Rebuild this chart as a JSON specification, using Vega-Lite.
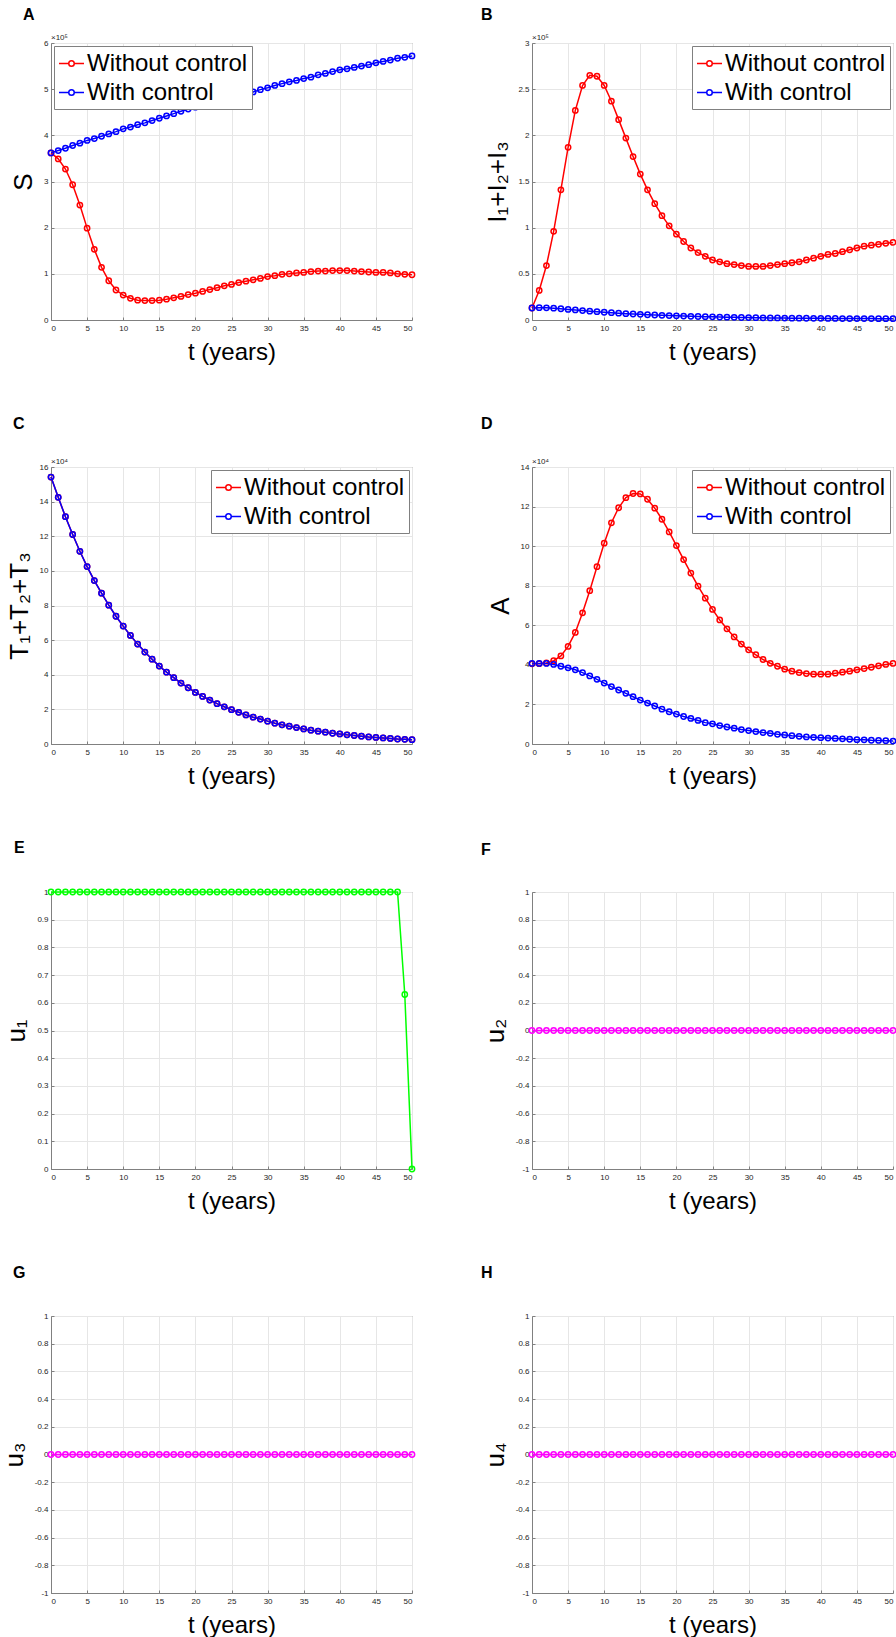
{
"$schema":"https://vega.github.io/schema/vega-lite/v6.json",
"padding":{"left":0,"top":6,"right":0,"bottom":0},
"config":{
"font":"Liberation Sans",
"view":{"stroke":"#808080","strokeWidth":1},
"axis":{"grid":true,"gridColor":"#e6e6e6","gridWidth":1,"domainColor":"#808080","tickColor":"#808080","tickSize":-3,"labelFontSize":8,"labelColor":"#262626","labelFont":"Liberation Sans","titleFont":"Liberation Sans","titleFontWeight":"normal","titleColor":"#000000","titleFontSize":26,"labelOverlap":false},
"axisX":{"titleFontSize":24,"titlePadding":8,"labelPadding":7},
"axisY":{"titlePadding":7,"labelPadding":6},
"title":{"fontSize":16,"fontWeight":"bold","anchor":"start","frame":"group","font":"Liberation Sans","color":"#000000","baseline":"bottom"},
"legend":{"labelFontSize":24,"labelFont":"Liberation Sans","labelColor":"#000000","symbolType":"M-1,0H-0.22M0.22,0H1M0.22,0A0.22,0.22,0,1,1,-0.22,0A0.22,0.22,0,1,1,0.22,0","symbolSize":625,"symbolStrokeWidth":1.5,"strokeColor":"#808080","fillColor":"#ffffff","padding":4,"rowPadding":3,"labelOffset":2,"offset":3,"labelLimit":400,"cornerRadius":0}
},
"datasets":{
"A":[
{"t":0,"s":"Without control","v":362000},{"t":1,"s":"Without control","v":349000},{"t":2,"s":"Without control","v":327000},{"t":3,"s":"Without control","v":293000},{"t":4,"s":"Without control","v":249000},{"t":5,"s":"Without control","v":199000},{"t":6,"s":"Without control","v":153000},{"t":7,"s":"Without control","v":114000},{"t":8,"s":"Without control","v":85000},{"t":9,"s":"Without control","v":65000},{"t":10,"s":"Without control","v":54000},{"t":11,"s":"Without control","v":47000},{"t":12,"s":"Without control","v":43000},{"t":13,"s":"Without control","v":42000},{"t":14,"s":"Without control","v":42000},{"t":15,"s":"Without control","v":43000},{"t":16,"s":"Without control","v":45000},{"t":17,"s":"Without control","v":48000},{"t":18,"s":"Without control","v":51000},{"t":19,"s":"Without control","v":55000},{"t":20,"s":"Without control","v":58000},{"t":21,"s":"Without control","v":62000},{"t":22,"s":"Without control","v":66000},{"t":23,"s":"Without control","v":70000},{"t":24,"s":"Without control","v":74000},{"t":25,"s":"Without control","v":77000},{"t":26,"s":"Without control","v":81000},{"t":27,"s":"Without control","v":84000},{"t":28,"s":"Without control","v":87000},{"t":29,"s":"Without control","v":90000},{"t":30,"s":"Without control","v":94000},{"t":31,"s":"Without control","v":96000},{"t":32,"s":"Without control","v":99000},{"t":33,"s":"Without control","v":100000},{"t":34,"s":"Without control","v":102000},{"t":35,"s":"Without control","v":103000},{"t":36,"s":"Without control","v":105000},{"t":37,"s":"Without control","v":106000},{"t":38,"s":"Without control","v":106000},{"t":39,"s":"Without control","v":107000},{"t":40,"s":"Without control","v":107000},{"t":41,"s":"Without control","v":107000},{"t":42,"s":"Without control","v":106000},{"t":43,"s":"Without control","v":105000},{"t":44,"s":"Without control","v":104000},{"t":45,"s":"Without control","v":103000},{"t":46,"s":"Without control","v":103000},{"t":47,"s":"Without control","v":102000},{"t":48,"s":"Without control","v":100000},{"t":49,"s":"Without control","v":99000},{"t":50,"s":"Without control","v":98000},
{"t":0,"s":"With control","v":362000},{"t":1,"s":"With control","v":367000},{"t":2,"s":"With control","v":372000},{"t":3,"s":"With control","v":378000},{"t":4,"s":"With control","v":383000},{"t":5,"s":"With control","v":389000},{"t":6,"s":"With control","v":393000},{"t":7,"s":"With control","v":398000},{"t":8,"s":"With control","v":403000},{"t":9,"s":"With control","v":408000},{"t":10,"s":"With control","v":414000},{"t":11,"s":"With control","v":418000},{"t":12,"s":"With control","v":423000},{"t":13,"s":"With control","v":427000},{"t":14,"s":"With control","v":432000},{"t":15,"s":"With control","v":437000},{"t":16,"s":"With control","v":442000},{"t":17,"s":"With control","v":447000},{"t":18,"s":"With control","v":452000},{"t":19,"s":"With control","v":457000},{"t":20,"s":"With control","v":461000},{"t":21,"s":"With control","v":465000},{"t":22,"s":"With control","v":469000},{"t":23,"s":"With control","v":473000},{"t":24,"s":"With control","v":477000},{"t":25,"s":"With control","v":481000},{"t":26,"s":"With control","v":485000},{"t":27,"s":"With control","v":489000},{"t":28,"s":"With control","v":494000},{"t":29,"s":"With control","v":499000},{"t":30,"s":"With control","v":503000},{"t":31,"s":"With control","v":508000},{"t":32,"s":"With control","v":512000},{"t":33,"s":"With control","v":516000},{"t":34,"s":"With control","v":519000},{"t":35,"s":"With control","v":523000},{"t":36,"s":"With control","v":526000},{"t":37,"s":"With control","v":531000},{"t":38,"s":"With control","v":534000},{"t":39,"s":"With control","v":538000},{"t":40,"s":"With control","v":542000},{"t":41,"s":"With control","v":544000},{"t":42,"s":"With control","v":547000},{"t":43,"s":"With control","v":550000},{"t":44,"s":"With control","v":553000},{"t":45,"s":"With control","v":557000},{"t":46,"s":"With control","v":560000},{"t":47,"s":"With control","v":563000},{"t":48,"s":"With control","v":567000},{"t":49,"s":"With control","v":569000},{"t":50,"s":"With control","v":572000}
],
"B":[
{"t":0,"s":"Without control","v":13000},{"t":1,"s":"Without control","v":32000},{"t":2,"s":"Without control","v":59000},{"t":3,"s":"Without control","v":96000},{"t":4,"s":"Without control","v":141000},{"t":5,"s":"Without control","v":187000},{"t":6,"s":"Without control","v":227000},{"t":7,"s":"Without control","v":254000},{"t":8,"s":"Without control","v":265000},{"t":9,"s":"Without control","v":264000},{"t":10,"s":"Without control","v":254000},{"t":11,"s":"Without control","v":237000},{"t":12,"s":"Without control","v":217000},{"t":13,"s":"Without control","v":197000},{"t":14,"s":"Without control","v":177000},{"t":15,"s":"Without control","v":158000},{"t":16,"s":"Without control","v":141000},{"t":17,"s":"Without control","v":126000},{"t":18,"s":"Without control","v":113000},{"t":19,"s":"Without control","v":102000},{"t":20,"s":"Without control","v":93000},{"t":21,"s":"Without control","v":85000},{"t":22,"s":"Without control","v":78000},{"t":23,"s":"Without control","v":73000},{"t":24,"s":"Without control","v":69000},{"t":25,"s":"Without control","v":65000},{"t":26,"s":"Without control","v":63000},{"t":27,"s":"Without control","v":61000},{"t":28,"s":"Without control","v":60000},{"t":29,"s":"Without control","v":59000},{"t":30,"s":"Without control","v":58000},{"t":31,"s":"Without control","v":58000},{"t":32,"s":"Without control","v":58000},{"t":33,"s":"Without control","v":59000},{"t":34,"s":"Without control","v":60000},{"t":35,"s":"Without control","v":61000},{"t":36,"s":"Without control","v":62000},{"t":37,"s":"Without control","v":63000},{"t":38,"s":"Without control","v":65000},{"t":39,"s":"Without control","v":67000},{"t":40,"s":"Without control","v":69000},{"t":41,"s":"Without control","v":71000},{"t":42,"s":"Without control","v":72000},{"t":43,"s":"Without control","v":74000},{"t":44,"s":"Without control","v":76000},{"t":45,"s":"Without control","v":78000},{"t":46,"s":"Without control","v":80000},{"t":47,"s":"Without control","v":81000},{"t":48,"s":"Without control","v":82000},{"t":49,"s":"Without control","v":83000},{"t":50,"s":"Without control","v":84000},
{"t":0,"s":"With control","v":13000},{"t":1,"s":"With control","v":13300},{"t":2,"s":"With control","v":13200},{"t":3,"s":"With control","v":12800},{"t":4,"s":"With control","v":12200},{"t":5,"s":"With control","v":11500},{"t":6,"s":"With control","v":10900},{"t":7,"s":"With control","v":10200},{"t":8,"s":"With control","v":9600},{"t":9,"s":"With control","v":9000},{"t":10,"s":"With control","v":8400},{"t":11,"s":"With control","v":7900},{"t":12,"s":"With control","v":7400},{"t":13,"s":"With control","v":6900},{"t":14,"s":"With control","v":6500},{"t":15,"s":"With control","v":6100},{"t":16,"s":"With control","v":5700},{"t":17,"s":"With control","v":5400},{"t":18,"s":"With control","v":5100},{"t":19,"s":"With control","v":4800},{"t":20,"s":"With control","v":4500},{"t":21,"s":"With control","v":4300},{"t":22,"s":"With control","v":4000},{"t":23,"s":"With control","v":3800},{"t":24,"s":"With control","v":3600},{"t":25,"s":"With control","v":3400},{"t":26,"s":"With control","v":3200},{"t":27,"s":"With control","v":3100},{"t":28,"s":"With control","v":2900},{"t":29,"s":"With control","v":2700},{"t":30,"s":"With control","v":2600},{"t":31,"s":"With control","v":2500},{"t":32,"s":"With control","v":2400},{"t":33,"s":"With control","v":2300},{"t":34,"s":"With control","v":2200},{"t":35,"s":"With control","v":2100},{"t":36,"s":"With control","v":2000},{"t":37,"s":"With control","v":2000},{"t":38,"s":"With control","v":1900},{"t":39,"s":"With control","v":1800},{"t":40,"s":"With control","v":1800},{"t":41,"s":"With control","v":1700},{"t":42,"s":"With control","v":1700},{"t":43,"s":"With control","v":1600},{"t":44,"s":"With control","v":1600},{"t":45,"s":"With control","v":1500},{"t":46,"s":"With control","v":1500},{"t":47,"s":"With control","v":1500},{"t":48,"s":"With control","v":1400},{"t":49,"s":"With control","v":1400},{"t":50,"s":"With control","v":1400}
],
"C":[
{"t":0,"s":"Without control","v":154200},{"t":1,"s":"Without control","v":142500},{"t":2,"s":"Without control","v":131300},{"t":3,"s":"Without control","v":121000},{"t":4,"s":"Without control","v":111300},{"t":5,"s":"Without control","v":102500},{"t":6,"s":"Without control","v":94400},{"t":7,"s":"Without control","v":87100},{"t":8,"s":"Without control","v":80200},{"t":9,"s":"Without control","v":73800},{"t":10,"s":"Without control","v":68100},{"t":11,"s":"Without control","v":62700},{"t":12,"s":"Without control","v":57700},{"t":13,"s":"Without control","v":53100},{"t":14,"s":"Without control","v":49000},{"t":15,"s":"Without control","v":45000},{"t":16,"s":"Without control","v":41500},{"t":17,"s":"Without control","v":38300},{"t":18,"s":"Without control","v":35200},{"t":19,"s":"Without control","v":32500},{"t":20,"s":"Without control","v":29800},{"t":21,"s":"Without control","v":27500},{"t":22,"s":"Without control","v":25400},{"t":23,"s":"Without control","v":23300},{"t":24,"s":"Without control","v":21500},{"t":25,"s":"Without control","v":19800},{"t":26,"s":"Without control","v":18300},{"t":27,"s":"Without control","v":16800},{"t":28,"s":"Without control","v":15500},{"t":29,"s":"Without control","v":14400},{"t":30,"s":"Without control","v":13200},{"t":31,"s":"Without control","v":12000},{"t":32,"s":"Without control","v":11100},{"t":33,"s":"Without control","v":10300},{"t":34,"s":"Without control","v":9500},{"t":35,"s":"Without control","v":8700},{"t":36,"s":"Without control","v":8000},{"t":37,"s":"Without control","v":7400},{"t":38,"s":"Without control","v":6800},{"t":39,"s":"Without control","v":6200},{"t":40,"s":"Without control","v":5800},{"t":41,"s":"Without control","v":5300},{"t":42,"s":"Without control","v":4900},{"t":43,"s":"Without control","v":4500},{"t":44,"s":"Without control","v":4100},{"t":45,"s":"Without control","v":3800},{"t":46,"s":"Without control","v":3500},{"t":47,"s":"Without control","v":3200},{"t":48,"s":"Without control","v":2900},{"t":49,"s":"Without control","v":2700},{"t":50,"s":"Without control","v":2500},
{"t":0,"s":"With control","v":154200},{"t":1,"s":"With control","v":142500},{"t":2,"s":"With control","v":131300},{"t":3,"s":"With control","v":121000},{"t":4,"s":"With control","v":111300},{"t":5,"s":"With control","v":102500},{"t":6,"s":"With control","v":94400},{"t":7,"s":"With control","v":87100},{"t":8,"s":"With control","v":80200},{"t":9,"s":"With control","v":73800},{"t":10,"s":"With control","v":68100},{"t":11,"s":"With control","v":62700},{"t":12,"s":"With control","v":57700},{"t":13,"s":"With control","v":53100},{"t":14,"s":"With control","v":49000},{"t":15,"s":"With control","v":45000},{"t":16,"s":"With control","v":41500},{"t":17,"s":"With control","v":38300},{"t":18,"s":"With control","v":35200},{"t":19,"s":"With control","v":32500},{"t":20,"s":"With control","v":29800},{"t":21,"s":"With control","v":27500},{"t":22,"s":"With control","v":25400},{"t":23,"s":"With control","v":23300},{"t":24,"s":"With control","v":21500},{"t":25,"s":"With control","v":19800},{"t":26,"s":"With control","v":18300},{"t":27,"s":"With control","v":16800},{"t":28,"s":"With control","v":15500},{"t":29,"s":"With control","v":14400},{"t":30,"s":"With control","v":13200},{"t":31,"s":"With control","v":12000},{"t":32,"s":"With control","v":11100},{"t":33,"s":"With control","v":10300},{"t":34,"s":"With control","v":9500},{"t":35,"s":"With control","v":8700},{"t":36,"s":"With control","v":8000},{"t":37,"s":"With control","v":7400},{"t":38,"s":"With control","v":6800},{"t":39,"s":"With control","v":6200},{"t":40,"s":"With control","v":5800},{"t":41,"s":"With control","v":5300},{"t":42,"s":"With control","v":4900},{"t":43,"s":"With control","v":4500},{"t":44,"s":"With control","v":4100},{"t":45,"s":"With control","v":3800},{"t":46,"s":"With control","v":3500},{"t":47,"s":"With control","v":3200},{"t":48,"s":"With control","v":2900},{"t":49,"s":"With control","v":2700},{"t":50,"s":"With control","v":2500}
],
"D":[
{"t":0,"s":"Without control","v":40500},{"t":1,"s":"Without control","v":40600},{"t":2,"s":"Without control","v":41000},{"t":3,"s":"Without control","v":42100},{"t":4,"s":"Without control","v":44500},{"t":5,"s":"Without control","v":49300},{"t":6,"s":"Without control","v":56400},{"t":7,"s":"Without control","v":66300},{"t":8,"s":"Without control","v":77500},{"t":9,"s":"Without control","v":89600},{"t":10,"s":"Without control","v":101500},{"t":11,"s":"Without control","v":111800},{"t":12,"s":"Without control","v":119400},{"t":13,"s":"Without control","v":124500},{"t":14,"s":"Without control","v":126600},{"t":15,"s":"Without control","v":126400},{"t":16,"s":"Without control","v":123700},{"t":17,"s":"Without control","v":119200},{"t":18,"s":"Without control","v":113600},{"t":19,"s":"Without control","v":107200},{"t":20,"s":"Without control","v":100300},{"t":21,"s":"Without control","v":93200},{"t":22,"s":"Without control","v":86400},{"t":23,"s":"Without control","v":79800},{"t":24,"s":"Without control","v":73700},{"t":25,"s":"Without control","v":68000},{"t":26,"s":"Without control","v":62700},{"t":27,"s":"Without control","v":58200},{"t":28,"s":"Without control","v":54100},{"t":29,"s":"Without control","v":50500},{"t":30,"s":"Without control","v":47600},{"t":31,"s":"Without control","v":45100},{"t":32,"s":"Without control","v":42700},{"t":33,"s":"Without control","v":40800},{"t":34,"s":"Without control","v":39300},{"t":35,"s":"Without control","v":37800},{"t":36,"s":"Without control","v":36800},{"t":37,"s":"Without control","v":36100},{"t":38,"s":"Without control","v":35600},{"t":39,"s":"Without control","v":35300},{"t":40,"s":"Without control","v":35300},{"t":41,"s":"Without control","v":35300},{"t":42,"s":"Without control","v":35800},{"t":43,"s":"Without control","v":36300},{"t":44,"s":"Without control","v":36800},{"t":45,"s":"Without control","v":37500},{"t":46,"s":"Without control","v":38100},{"t":47,"s":"Without control","v":38800},{"t":48,"s":"Without control","v":39500},{"t":49,"s":"Without control","v":40200},{"t":50,"s":"Without control","v":40700},
{"t":0,"s":"With control","v":40700},{"t":1,"s":"With control","v":40700},{"t":2,"s":"With control","v":40700},{"t":3,"s":"With control","v":40200},{"t":4,"s":"With control","v":39300},{"t":5,"s":"With control","v":38500},{"t":6,"s":"With control","v":37500},{"t":7,"s":"With control","v":36100},{"t":8,"s":"With control","v":34400},{"t":9,"s":"With control","v":32700},{"t":10,"s":"With control","v":30800},{"t":11,"s":"With control","v":29000},{"t":12,"s":"With control","v":27300},{"t":13,"s":"With control","v":25600},{"t":14,"s":"With control","v":23900},{"t":15,"s":"With control","v":22200},{"t":16,"s":"With control","v":20700},{"t":17,"s":"With control","v":19200},{"t":18,"s":"With control","v":17600},{"t":19,"s":"With control","v":16300},{"t":20,"s":"With control","v":15100},{"t":21,"s":"With control","v":13900},{"t":22,"s":"With control","v":12900},{"t":23,"s":"With control","v":11900},{"t":24,"s":"With control","v":10800},{"t":25,"s":"With control","v":10200},{"t":26,"s":"With control","v":9300},{"t":27,"s":"With control","v":8600},{"t":28,"s":"With control","v":8000},{"t":29,"s":"With control","v":7300},{"t":30,"s":"With control","v":6800},{"t":31,"s":"With control","v":6300},{"t":32,"s":"With control","v":5800},{"t":33,"s":"With control","v":5400},{"t":34,"s":"With control","v":4900},{"t":35,"s":"With control","v":4600},{"t":36,"s":"With control","v":4200},{"t":37,"s":"With control","v":3900},{"t":38,"s":"With control","v":3600},{"t":39,"s":"With control","v":3400},{"t":40,"s":"With control","v":3200},{"t":41,"s":"With control","v":3000},{"t":42,"s":"With control","v":2800},{"t":43,"s":"With control","v":2600},{"t":44,"s":"With control","v":2400},{"t":45,"s":"With control","v":2200},{"t":46,"s":"With control","v":2100},{"t":47,"s":"With control","v":1900},{"t":48,"s":"With control","v":1800},{"t":49,"s":"With control","v":1700},{"t":50,"s":"With control","v":1500}
],
"E":[
{"t":0,"v":1},{"t":1,"v":1},{"t":2,"v":1},{"t":3,"v":1},{"t":4,"v":1},{"t":5,"v":1},{"t":6,"v":1},{"t":7,"v":1},{"t":8,"v":1},{"t":9,"v":1},{"t":10,"v":1},{"t":11,"v":1},{"t":12,"v":1},{"t":13,"v":1},{"t":14,"v":1},{"t":15,"v":1},{"t":16,"v":1},{"t":17,"v":1},{"t":18,"v":1},{"t":19,"v":1},{"t":20,"v":1},{"t":21,"v":1},{"t":22,"v":1},{"t":23,"v":1},{"t":24,"v":1},{"t":25,"v":1},{"t":26,"v":1},{"t":27,"v":1},{"t":28,"v":1},{"t":29,"v":1},{"t":30,"v":1},{"t":31,"v":1},{"t":32,"v":1},{"t":33,"v":1},{"t":34,"v":1},{"t":35,"v":1},{"t":36,"v":1},{"t":37,"v":1},{"t":38,"v":1},{"t":39,"v":1},{"t":40,"v":1},{"t":41,"v":1},{"t":42,"v":1},{"t":43,"v":1},{"t":44,"v":1},{"t":45,"v":1},{"t":46,"v":1},{"t":47,"v":1},{"t":48,"v":1},{"t":49,"v":0.63},{"t":50,"v":0}
],
"U0":[
{"t":0,"v":0},{"t":1,"v":0},{"t":2,"v":0},{"t":3,"v":0},{"t":4,"v":0},{"t":5,"v":0},{"t":6,"v":0},{"t":7,"v":0},{"t":8,"v":0},{"t":9,"v":0},{"t":10,"v":0},{"t":11,"v":0},{"t":12,"v":0},{"t":13,"v":0},{"t":14,"v":0},{"t":15,"v":0},{"t":16,"v":0},{"t":17,"v":0},{"t":18,"v":0},{"t":19,"v":0},{"t":20,"v":0},{"t":21,"v":0},{"t":22,"v":0},{"t":23,"v":0},{"t":24,"v":0},{"t":25,"v":0},{"t":26,"v":0},{"t":27,"v":0},{"t":28,"v":0},{"t":29,"v":0},{"t":30,"v":0},{"t":31,"v":0},{"t":32,"v":0},{"t":33,"v":0},{"t":34,"v":0},{"t":35,"v":0},{"t":36,"v":0},{"t":37,"v":0},{"t":38,"v":0},{"t":39,"v":0},{"t":40,"v":0},{"t":41,"v":0},{"t":42,"v":0},{"t":43,"v":0},{"t":44,"v":0},{"t":45,"v":0},{"t":46,"v":0},{"t":47,"v":0},{"t":48,"v":0},{"t":49,"v":0},{"t":50,"v":0}
]
},
"columns":2,
"spacing":{"row":50,"column":61},
"resolve":{"scale":{"color":"independent","x":"independent","y":"independent"},"legend":{"color":"independent"}},
"concat":[
{"width":361,"height":277,"title":{"text":"A","dx":-28,"offset":11},"data":{"name":"A"},
"layer":[
{"mark":{"type":"line","strokeWidth":1.5},"encoding":{"x":{"field":"t","type":"quantitative","scale":{"domain":[0,50],"nice":false},"axis":{"values":[0,5,10,15,20,25,30,35,40,45,50],"title":"t (years)"}},"y":{"field":"v","type":"quantitative","scale":{"domain":[0,600000],"nice":false},"axis":{"values":[0,100000,200000,300000,400000,500000,600000],"labelExpr":"toString(datum.value/100000)","title":"S"}},"color":{"field":"s","type":"nominal","scale":{"domain":["Without control","With control"],"range":["#ff0000","#0000ff"]},"legend":{"orient":"top-left","title":null}}}},
{"mark":{"type":"point","filled":false,"size":28,"strokeWidth":1.5,"opacity":1},"encoding":{"x":{"field":"t","type":"quantitative","scale":{"domain":[0,50],"nice":false},"axis":{"values":[0,5,10,15,20,25,30,35,40,45,50],"title":"t (years)"}},"y":{"field":"v","type":"quantitative","scale":{"domain":[0,600000],"nice":false},"axis":{"values":[0,100000,200000,300000,400000,500000,600000],"labelExpr":"toString(datum.value/100000)","title":"S"}},"color":{"field":"s","type":"nominal","legend":null}}},
{"data":{"values":[{"note":"×10⁵"}]},"mark":{"type":"text","align":"left","baseline":"bottom","dy":-1,"fontSize":8,"color":"#262626"},"encoding":{"x":{"datum":0,"type":"quantitative","scale":{"domain":[0,50],"nice":false},"axis":{"values":[0,5,10,15,20,25,30,35,40,45,50],"title":"t (years)"}},"y":{"datum":600000,"type":"quantitative","scale":{"domain":[0,600000],"nice":false},"axis":{"values":[0,100000,200000,300000,400000,500000,600000],"labelExpr":"toString(datum.value/100000)","title":"S"}},"text":{"field":"note","type":"nominal"}}}
]},
{"width":361,"height":277,"title":{"text":"B","dx":-51,"offset":11},"data":{"name":"B"},
"layer":[
{"mark":{"type":"line","strokeWidth":1.5},"encoding":{"x":{"field":"t","type":"quantitative","scale":{"domain":[0,50],"nice":false},"axis":{"values":[0,5,10,15,20,25,30,35,40,45,50],"title":"t (years)"}},"y":{"field":"v","type":"quantitative","scale":{"domain":[0,300000],"nice":false},"axis":{"values":[0,50000,100000,150000,200000,250000,300000],"labelExpr":"toString(datum.value/100000)","title":"I₁+I₂+I₃"}},"color":{"field":"s","type":"nominal","scale":{"domain":["Without control","With control"],"range":["#ff0000","#0000ff"]},"legend":{"orient":"top-right","title":null}}}},
{"mark":{"type":"point","filled":false,"size":28,"strokeWidth":1.5,"opacity":1},"encoding":{"x":{"field":"t","type":"quantitative","scale":{"domain":[0,50],"nice":false},"axis":{"values":[0,5,10,15,20,25,30,35,40,45,50],"title":"t (years)"}},"y":{"field":"v","type":"quantitative","scale":{"domain":[0,300000],"nice":false},"axis":{"values":[0,50000,100000,150000,200000,250000,300000],"labelExpr":"toString(datum.value/100000)","title":"I₁+I₂+I₃"}},"color":{"field":"s","type":"nominal","legend":null}}},
{"data":{"values":[{"note":"×10⁵"}]},"mark":{"type":"text","align":"left","baseline":"bottom","dy":-1,"fontSize":8,"color":"#262626"},"encoding":{"x":{"datum":0,"type":"quantitative","scale":{"domain":[0,50],"nice":false},"axis":{"values":[0,5,10,15,20,25,30,35,40,45,50],"title":"t (years)"}},"y":{"datum":300000,"type":"quantitative","scale":{"domain":[0,300000],"nice":false},"axis":{"values":[0,50000,100000,150000,200000,250000,300000],"labelExpr":"toString(datum.value/100000)","title":"I₁+I₂+I₃"}},"text":{"field":"note","type":"nominal"}}}
]},
{"width":361,"height":277,"title":{"text":"C","dx":-38,"offset":26},"data":{"name":"C"},
"layer":[
{"mark":{"type":"line","strokeWidth":1.5},"encoding":{"x":{"field":"t","type":"quantitative","scale":{"domain":[0,50],"nice":false},"axis":{"values":[0,5,10,15,20,25,30,35,40,45,50],"title":"t (years)"}},"y":{"field":"v","type":"quantitative","scale":{"domain":[0,160000],"nice":false},"axis":{"values":[0,20000,40000,60000,80000,100000,120000,140000,160000],"labelExpr":"toString(datum.value/10000)","title":"T₁+T₂+T₃"}},"color":{"field":"s","type":"nominal","scale":{"domain":["Without control","With control"],"range":["#ff0000","#0000ff"]},"legend":{"orient":"top-right","title":null}}}},
{"mark":{"type":"point","filled":false,"size":28,"strokeWidth":1.5,"opacity":1},"encoding":{"x":{"field":"t","type":"quantitative","scale":{"domain":[0,50],"nice":false},"axis":{"values":[0,5,10,15,20,25,30,35,40,45,50],"title":"t (years)"}},"y":{"field":"v","type":"quantitative","scale":{"domain":[0,160000],"nice":false},"axis":{"values":[0,20000,40000,60000,80000,100000,120000,140000,160000],"labelExpr":"toString(datum.value/10000)","title":"T₁+T₂+T₃"}},"color":{"field":"s","type":"nominal","legend":null}}},
{"data":{"values":[{"note":"×10⁴"}]},"mark":{"type":"text","align":"left","baseline":"bottom","dy":-1,"fontSize":8,"color":"#262626"},"encoding":{"x":{"datum":0,"type":"quantitative","scale":{"domain":[0,50],"nice":false},"axis":{"values":[0,5,10,15,20,25,30,35,40,45,50],"title":"t (years)"}},"y":{"datum":160000,"type":"quantitative","scale":{"domain":[0,160000],"nice":false},"axis":{"values":[0,20000,40000,60000,80000,100000,120000,140000,160000],"labelExpr":"toString(datum.value/10000)","title":"T₁+T₂+T₃"}},"text":{"field":"note","type":"nominal"}}}
]},
{"width":361,"height":277,"title":{"text":"D","dx":-51,"offset":26},"data":{"name":"D"},
"layer":[
{"mark":{"type":"line","strokeWidth":1.5},"encoding":{"x":{"field":"t","type":"quantitative","scale":{"domain":[0,50],"nice":false},"axis":{"values":[0,5,10,15,20,25,30,35,40,45,50],"title":"t (years)"}},"y":{"field":"v","type":"quantitative","scale":{"domain":[0,140000],"nice":false},"axis":{"values":[0,20000,40000,60000,80000,100000,120000,140000],"labelExpr":"toString(datum.value/10000)","title":"A"}},"color":{"field":"s","type":"nominal","scale":{"domain":["Without control","With control"],"range":["#ff0000","#0000ff"]},"legend":{"orient":"top-right","title":null}}}},
{"mark":{"type":"point","filled":false,"size":28,"strokeWidth":1.5,"opacity":1},"encoding":{"x":{"field":"t","type":"quantitative","scale":{"domain":[0,50],"nice":false},"axis":{"values":[0,5,10,15,20,25,30,35,40,45,50],"title":"t (years)"}},"y":{"field":"v","type":"quantitative","scale":{"domain":[0,140000],"nice":false},"axis":{"values":[0,20000,40000,60000,80000,100000,120000,140000],"labelExpr":"toString(datum.value/10000)","title":"A"}},"color":{"field":"s","type":"nominal","legend":null}}},
{"data":{"values":[{"note":"×10⁴"}]},"mark":{"type":"text","align":"left","baseline":"bottom","dy":-1,"fontSize":8,"color":"#262626"},"encoding":{"x":{"datum":0,"type":"quantitative","scale":{"domain":[0,50],"nice":false},"axis":{"values":[0,5,10,15,20,25,30,35,40,45,50],"title":"t (years)"}},"y":{"datum":140000,"type":"quantitative","scale":{"domain":[0,140000],"nice":false},"axis":{"values":[0,20000,40000,60000,80000,100000,120000,140000],"labelExpr":"toString(datum.value/10000)","title":"A"}},"text":{"field":"note","type":"nominal"}}}
]},
{"width":361,"height":277,"title":{"text":"E","dx":-37,"offset":30},"data":{"name":"E"},
"encoding":{"x":{"field":"t","type":"quantitative","scale":{"domain":[0,50],"nice":false},"axis":{"values":[0,5,10,15,20,25,30,35,40,45,50],"title":"t (years)"}},
"y":{"field":"v","type":"quantitative","scale":{"domain":[0,1],"nice":false},"axis":{"values":[0,0.1,0.2,0.3,0.4,0.5,0.6,0.7,0.8,0.9,1],"labelExpr":"toString(round(datum.value*10)/10)","title":"u₁"}}},
"layer":[
{"mark":{"type":"line","strokeWidth":1.5,"color":"#00ff00"}},
{"mark":{"type":"point","filled":false,"size":28,"strokeWidth":1.5,"opacity":1,"color":"#00ff00"}}
]},
{"width":361,"height":277,"title":{"text":"F","dx":-51,"offset":30},"data":{"name":"U0"},
"encoding":{"x":{"field":"t","type":"quantitative","scale":{"domain":[0,50],"nice":false},"axis":{"values":[0,5,10,15,20,25,30,35,40,45,50],"title":"t (years)"}},
"y":{"field":"v","type":"quantitative","scale":{"domain":[-1,1],"nice":false},"axis":{"values":[-1,-0.8,-0.6,-0.4,-0.2,0,0.2,0.4,0.6,0.8,1],"labelExpr":"toString(round(datum.value*10)/10)","title":"u₂"}}},
"layer":[
{"mark":{"type":"line","strokeWidth":1.5,"color":"#ff00ff"}},
{"mark":{"type":"point","filled":false,"size":28,"strokeWidth":1.5,"opacity":1,"color":"#ff00ff"}}
]},
{"width":361,"height":277,"title":{"text":"G","dx":-38,"offset":31},"data":{"name":"U0"},
"encoding":{"x":{"field":"t","type":"quantitative","scale":{"domain":[0,50],"nice":false},"axis":{"values":[0,5,10,15,20,25,30,35,40,45,50],"title":"t (years)"}},
"y":{"field":"v","type":"quantitative","scale":{"domain":[-1,1],"nice":false},"axis":{"values":[-1,-0.8,-0.6,-0.4,-0.2,0,0.2,0.4,0.6,0.8,1],"labelExpr":"toString(round(datum.value*10)/10)","title":"u₃"}}},
"layer":[
{"mark":{"type":"line","strokeWidth":1.5,"color":"#ff00ff"}},
{"mark":{"type":"point","filled":false,"size":28,"strokeWidth":1.5,"opacity":1,"color":"#ff00ff"}}
]},
{"width":361,"height":277,"title":{"text":"H","dx":-51,"offset":31},"data":{"name":"U0"},
"encoding":{"x":{"field":"t","type":"quantitative","scale":{"domain":[0,50],"nice":false},"axis":{"values":[0,5,10,15,20,25,30,35,40,45,50],"title":"t (years)"}},
"y":{"field":"v","type":"quantitative","scale":{"domain":[-1,1],"nice":false},"axis":{"values":[-1,-0.8,-0.6,-0.4,-0.2,0,0.2,0.4,0.6,0.8,1],"labelExpr":"toString(round(datum.value*10)/10)","title":"u₄"}}},
"layer":[
{"mark":{"type":"line","strokeWidth":1.5,"color":"#ff00ff"}},
{"mark":{"type":"point","filled":false,"size":28,"strokeWidth":1.5,"opacity":1,"color":"#ff00ff"}}
]}
]
}
